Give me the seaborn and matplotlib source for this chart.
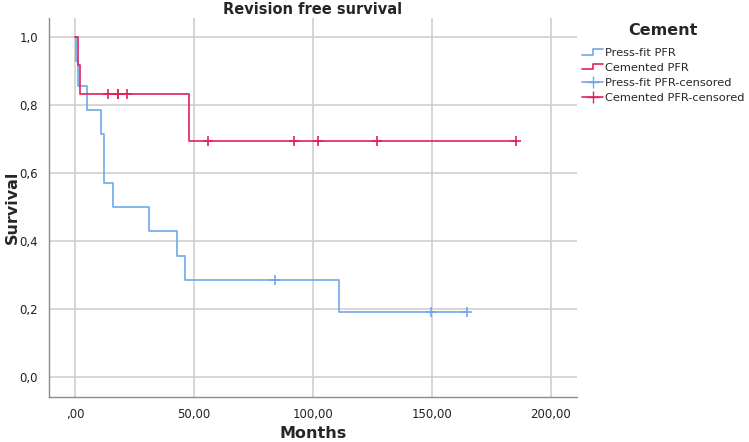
import matplotlib
matplotlib.use("Agg")
import matplotlib.pyplot as plt
import seaborn as sns
import pandas as pd
from matplotlib.legend_handler import HandlerBase
from matplotlib.lines import Line2D

# ---- data ----
press_time = [0, 0.3, 1, 5, 11, 12, 16, 31, 43, 46, 111, 164.6]
press_surv = [1.0, 0.929, 0.857, 0.786, 0.714, 0.571, 0.500, 0.429, 0.357, 0.286, 0.190, 0.190]
press_cens_time = [84, 149.5, 164.6]
press_cens_surv = [0.286, 0.190, 0.190]

cem_time = [0, 1, 2, 48, 185.5]
cem_surv = [1.0, 0.917, 0.833, 0.694, 0.694]
cem_cens_time = [14, 18, 18, 22, 56, 92, 102, 127, 185.5]
cem_cens_surv = [0.833, 0.833, 0.833, 0.833, 0.694, 0.694, 0.694, 0.694, 0.694]

x_ticks = [0, 50, 100, 150, 200]
x_labels = [",00", "50,00", "100,00", "150,00", "200,00"]
y_ticks = [0.0, 0.2, 0.4, 0.6, 0.8, 1.0]
y_labels = ["0,0", "0,2", "0,4", "0,6", "0,8", "1,0"]

blue = "#6fa7ea"
red = "#dd2457"

sns.set_theme(style="white")
plt.rcParams["font.family"] = ["DejaVu Sans"]

fig = plt.figure(figsize=(7.49, 4.42), dpi=100)
ax = fig.add_axes([0.0654, 0.1018, 0.705, 0.8575])

for x in x_ticks:
    ax.axvline(x, color="#cfcfcf", lw=1.2, zorder=0)
for y in y_ticks:
    ax.axhline(y, color="#cfcfcf", lw=1.2, zorder=0)

df_p = pd.DataFrame({"t": press_time, "s": press_surv})
df_c = pd.DataFrame({"t": cem_time, "s": cem_surv})
sns.lineplot(data=df_p, x="t", y="s", drawstyle="steps-post", color=blue, lw=1.2,
             estimator=None, sort=False, ax=ax, zorder=3)
sns.lineplot(data=df_c, x="t", y="s", drawstyle="steps-post", color=red, lw=1.2,
             estimator=None, sort=False, ax=ax, zorder=4)
sns.scatterplot(x=press_cens_time, y=press_cens_surv, marker="+", color=blue, s=60,
                linewidth=1.2, ax=ax, zorder=5)
sns.scatterplot(x=cem_cens_time, y=cem_cens_surv, marker="+", color=red, s=60,
                linewidth=1.2, ax=ax, zorder=6)

ax.set_xlim(-11, 211)
ax.set_ylim(-0.059, 1.056)
ax.set_xticks(x_ticks)
ax.set_xticklabels(x_labels, fontsize=8.5, color="#222222")
ax.set_yticks(y_ticks)
ax.set_yticklabels(y_labels, fontsize=8.5, color="#222222")
ax.tick_params(length=0, pad=8)
for side in ["top", "right"]:
    ax.spines[side].set_visible(False)
for side in ["left", "bottom"]:
    ax.spines[side].set_color("#8c8c8c")
    ax.spines[side].set_linewidth(1.0)

ax.set_title("Revision free survival", fontsize=10.5, fontweight="bold", pad=3)
ax.set_xlabel("")
ax.set_ylabel("")
fig.text(313 / 749, 1 - 434 / 442, "Months", fontsize=11.5, fontweight="bold",
         ha="center", va="center")
fig.text(12 / 749, 1 - 207 / 442, "Survival", fontsize=11.5, fontweight="bold",
         ha="center", va="center", rotation=90)


class StepHandler(HandlerBase):
    def __init__(self, color):
        super().__init__()
        self.color = color

    def create_artists(self, legend, orig_handle, xdescent, ydescent, width, height, fontsize, trans):
        x0, x1 = -xdescent, -xdescent + width
        ym = height / 2 - ydescent
        xs = [x0, x0 + width * 0.5, x0 + width * 0.5, x1]
        ys = [ym - height * 0.3, ym - height * 0.3, ym + height * 0.4, ym + height * 0.4]
        ln = Line2D(xs, ys, color=self.color, lw=1.2, transform=trans)
        return [ln]


h1 = Line2D([], [], color=blue)
h2 = Line2D([], [], color=red)
h3 = Line2D([], [], color=blue, marker="+", markersize=8, lw=1.2)
h4 = Line2D([], [], color=red, marker="+", markersize=8, lw=1.2)
leg = fig.legend([h1, h2, h3, h4],
                 ["Press-fit PFR", "Cemented PFR", "Press-fit PFR-censored", "Cemented PFR-censored"],
                 loc="upper left", bbox_to_anchor=(0.766, 0.965), frameon=False,
                 title="Cement", fontsize=8.2, title_fontproperties={"weight": "bold", "size": 11.5},
                 handlelength=1.9, handletextpad=0.15, labelspacing=0.42, borderpad=0.2,
                 handler_map={h1: StepHandler(blue), h2: StepHandler(red)})
leg._legend_box.sep = 7

fig.savefig("out.png", dpi=100)
